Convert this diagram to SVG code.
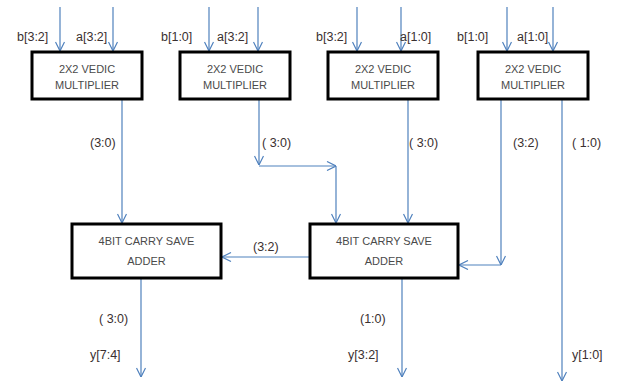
<svg xmlns="http://www.w3.org/2000/svg" width="618" height="383" viewBox="0 0 618 383">
<defs>
<style>
.box{fill:#fff;stroke:#000;stroke-width:3}
.bt{font-family:"Liberation Sans",Arial,sans-serif;font-size:11px;fill:#4a4a4a;text-anchor:middle}
.lb{font-family:"Liberation Sans",Arial,sans-serif;font-size:12.5px;fill:#3a3030}
.w{fill:none;stroke:#4f81bd;stroke-width:1.2}
</style>
<marker id="ah" viewBox="0 0 10 10" refX="10" refY="5" markerWidth="10" markerHeight="10" markerUnits="userSpaceOnUse" orient="auto">
<path d="M1,0.5 L10,5 L1,9.5" fill="none" stroke="#4f81bd" stroke-width="1.2"/>
</marker>
</defs>
<rect width="618" height="383" fill="#fff"/>
<g id="connectors">
<line class="w" x1="60" y1="7" x2="60" y2="51" marker-end="url(#ah)"/>
<line class="w" x1="113" y1="7" x2="113" y2="51" marker-end="url(#ah)"/>
<line class="w" x1="209" y1="7" x2="209" y2="51" marker-end="url(#ah)"/>
<line class="w" x1="258" y1="7" x2="258" y2="51" marker-end="url(#ah)"/>
<line class="w" x1="357" y1="7" x2="357" y2="51" marker-end="url(#ah)"/>
<line class="w" x1="401" y1="7" x2="401" y2="51" marker-end="url(#ah)"/>
<line class="w" x1="507" y1="7" x2="507" y2="51" marker-end="url(#ah)"/>
<line class="w" x1="553" y1="7" x2="553" y2="51" marker-end="url(#ah)"/>
<line class="w" x1="122" y1="100" x2="122" y2="223" marker-end="url(#ah)"/>
<line class="w" x1="259" y1="100" x2="259" y2="165" marker-end="url(#ah)"/>
<line class="w" x1="259" y1="166" x2="336" y2="166" marker-end="url(#ah)"/>
<line class="w" x1="336" y1="166" x2="336" y2="223" marker-end="url(#ah)"/>
<line class="w" x1="408" y1="100" x2="408" y2="223" marker-end="url(#ah)"/>
<line class="w" x1="501" y1="100" x2="501" y2="265" marker-end="url(#ah)"/>
<line class="w" x1="501" y1="265" x2="459" y2="265" marker-end="url(#ah)"/>
<line class="w" x1="562" y1="100" x2="562" y2="381" marker-end="url(#ah)"/>
<line class="w" x1="310" y1="257" x2="222" y2="257" marker-end="url(#ah)"/>
<line class="w" x1="141" y1="279" x2="141" y2="377" marker-end="url(#ah)"/>
<line class="w" x1="402" y1="279" x2="402" y2="377" marker-end="url(#ah)"/>
</g>
<g id="mult1"><rect class="box" x="32" y="52" width="110" height="47"/><text class="bt" x="87" y="73">2X2 VEDIC</text><text class="bt" x="87" y="89">MULTIPLIER</text></g>
<g id="mult2"><rect class="box" x="180" y="52" width="110" height="47"/><text class="bt" x="235" y="73">2X2 VEDIC</text><text class="bt" x="235" y="89">MULTIPLIER</text></g>
<g id="mult3"><rect class="box" x="328" y="52" width="110" height="47"/><text class="bt" x="383" y="73">2X2 VEDIC</text><text class="bt" x="383" y="89">MULTIPLIER</text></g>
<g id="mult4"><rect class="box" x="478" y="52" width="110" height="47"/><text class="bt" x="533" y="73">2X2 VEDIC</text><text class="bt" x="533" y="89">MULTIPLIER</text></g>
<g id="csa1"><rect class="box" x="72" y="224" width="149" height="54"/><text class="bt" x="146.5" y="245">4BIT CARRY SAVE</text><text class="bt" x="146.5" y="265">ADDER</text></g>
<g id="csa2"><rect class="box" x="310" y="224" width="148" height="54"/><text class="bt" x="384" y="245">4BIT CARRY SAVE</text><text class="bt" x="384" y="265">ADDER</text></g>
<g id="labels">
<text class="lb" x="17" y="41">b[3:2]</text>
<text class="lb" x="76" y="41">a[3:2]</text>
<text class="lb" x="161" y="41">b[1:0]</text>
<text class="lb" x="217" y="41">a[3:2]</text>
<text class="lb" x="316" y="41">b[3:2]</text>
<text class="lb" x="400" y="41">a[1:0]</text>
<text class="lb" x="457" y="41">b[1:0]</text>
<text class="lb" x="517" y="41">a[1:0]</text>
<text class="lb" x="90" y="147">(3:0)</text>
<text class="lb" x="262" y="147">( 3:0)</text>
<text class="lb" x="409" y="147">( 3:0)</text>
<text class="lb" x="513" y="147">(3:2)</text>
<text class="lb" x="572" y="147">( 1:0)</text>
<text class="lb" x="253" y="251">(3:2)</text>
<text class="lb" x="99" y="323">( 3:0)</text>
<text class="lb" x="90" y="359">y[7:4]</text>
<text class="lb" x="360" y="323">(1:0)</text>
<text class="lb" x="348" y="359">y[3:2]</text>
<text class="lb" x="572" y="359">y[1:0]</text>
</g>
</svg>
